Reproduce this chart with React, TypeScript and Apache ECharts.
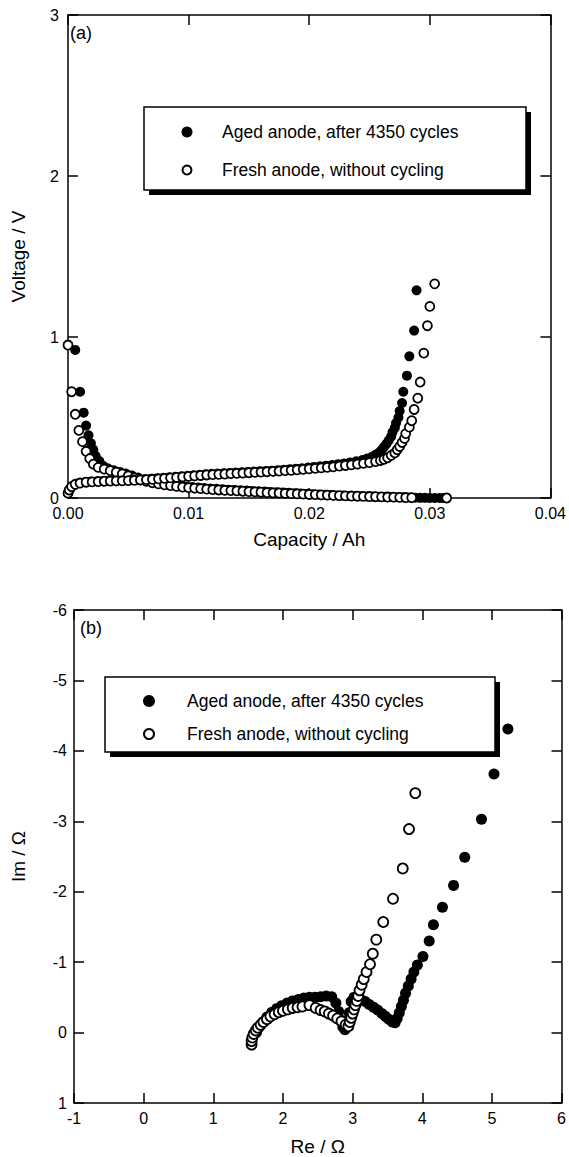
import React, { useEffect, useRef } from "react";
import * as echarts from "echarts";

const FONT = "'Liberation Sans', Arial, Helvetica, sans-serif";

const seriesNames = ["Aged anode, after 4350 cycles", "Fresh anode, without cycling"];

// Panel (a): [capacity Ah, voltage V]
const agedDischarge = [
  [0.0006,0.92],[0.001,0.66],[0.0013,0.53],[0.0015,0.45],[0.0017,0.39],[0.0019,0.34],[0.0021,0.3],[0.0023,0.26],
  [0.0026,0.23],[0.0029,0.2],[0.0033,0.185],[0.0038,0.172],[0.0043,0.162],[0.0048,0.152],[0.0053,0.14],[0.0058,0.127],
  [0.0063,0.115],[0.0068,0.105],[0.0073,0.097],[0.0078,0.09],[0.0083,0.084],[0.0088,0.079],[0.0093,0.075],[0.0098,0.071],
  [0.0103,0.068],[0.0108,0.065],[0.0113,0.062],[0.0118,0.059],[0.0123,0.057],[0.0128,0.054],[0.0133,0.052],[0.0138,0.05],
  [0.0143,0.048],[0.0148,0.046],[0.0153,0.044],[0.0158,0.042],[0.0163,0.04],[0.0168,0.038],[0.0173,0.036],[0.0178,0.034],
  [0.0183,0.032],[0.0188,0.03],[0.0193,0.028],[0.0198,0.026],[0.0203,0.024],[0.0208,0.022],[0.0213,0.02],[0.0218,0.018],
  [0.0223,0.016],[0.0228,0.015],[0.0233,0.013],[0.0238,0.012],[0.0243,0.011],[0.0248,0.01],[0.0253,0.009],[0.0258,0.008],
  [0.0263,0.007],[0.0268,0.006],[0.0273,0.005],[0.0278,0.004],[0.0283,0.003],[0.0288,0.002],[0.0292,0.001],[0.0296,0.001],
  [0.03,0.0],[0.0304,0.0],[0.0308,0.0],[0.0311,0.0]
];
const agedCharge = [
  [0.0,0.03],[0.0002,0.06],[0.0005,0.08],[0.0009,0.092],[0.0014,0.098],[0.0019,0.102],[0.0024,0.104],[0.0029,0.106],
  [0.0034,0.108],[0.0039,0.109],[0.0044,0.11],[0.0049,0.111],[0.0054,0.113],[0.0059,0.115],[0.0064,0.117],[0.0069,0.12],
  [0.0074,0.123],[0.0079,0.126],[0.0084,0.129],[0.0089,0.132],[0.0094,0.135],[0.0099,0.138],[0.0104,0.141],[0.0109,0.144],
  [0.0114,0.147],[0.0119,0.15],[0.0124,0.152],[0.0129,0.154],[0.0134,0.156],[0.0139,0.158],[0.0144,0.16],[0.0149,0.162],
  [0.0154,0.164],[0.0159,0.166],[0.0164,0.168],[0.0169,0.17],[0.0174,0.173],[0.0179,0.176],[0.0184,0.179],[0.0189,0.182],
  [0.0194,0.185],[0.0199,0.189],[0.0204,0.193],[0.0209,0.197],[0.0214,0.201],[0.0219,0.205],[0.0224,0.21],[0.0229,0.215],
  [0.0234,0.221],[0.0239,0.228],[0.0244,0.236],[0.0248,0.245],[0.0252,0.256],[0.0255,0.268],[0.0258,0.282],[0.026,0.298],
  [0.0262,0.316],[0.0264,0.336],[0.0266,0.358],[0.0268,0.382],[0.0269,0.408],[0.0271,0.436],[0.0272,0.466],[0.0274,0.5],
  [0.0275,0.54],[0.0277,0.59],[0.0278,0.66],[0.0281,0.76],[0.0283,0.88],[0.0287,1.04],[0.0289,1.29]
];
const freshDischarge = [
  [0.0,0.95],[0.0003,0.66],[0.0006,0.52],[0.0009,0.42],[0.0012,0.35],[0.0015,0.29],[0.0018,0.245],[0.0021,0.21],
  [0.0025,0.19],[0.003,0.18],[0.0035,0.17],[0.004,0.16],[0.0045,0.15],[0.005,0.138],[0.0055,0.125],[0.006,0.113],
  [0.0065,0.103],[0.007,0.095],[0.0075,0.088],[0.008,0.082],[0.0085,0.077],[0.009,0.072],[0.0095,0.068],[0.01,0.064],
  [0.0105,0.061],[0.011,0.058],[0.0115,0.055],[0.012,0.052],[0.0125,0.05],[0.013,0.048],[0.0135,0.046],[0.014,0.044],
  [0.0145,0.042],[0.015,0.04],[0.0155,0.038],[0.016,0.036],[0.0165,0.034],[0.017,0.032],[0.0175,0.031],[0.018,0.029],
  [0.0185,0.027],[0.019,0.026],[0.0195,0.024],[0.02,0.022],[0.0205,0.021],[0.021,0.019],[0.0215,0.018],[0.022,0.016],
  [0.0225,0.015],[0.023,0.013],[0.0235,0.012],[0.024,0.011],[0.0245,0.01],[0.025,0.009],[0.0255,0.008],[0.026,0.007],
  [0.0265,0.006],[0.027,0.005],[0.0275,0.004],[0.028,0.003],[0.0285,0.002],[0.0314,0.0]
];
const freshCharge = [
  [0.0,0.03],[0.0001,0.05],[0.0003,0.07],[0.0006,0.085],[0.001,0.093],[0.0015,0.098],[0.002,0.1],[0.0025,0.102],
  [0.003,0.104],[0.0035,0.105],[0.004,0.106],[0.0045,0.107],[0.005,0.108],[0.0055,0.11],[0.006,0.112],[0.0065,0.114],
  [0.007,0.116],[0.0075,0.119],[0.008,0.122],[0.0085,0.125],[0.009,0.128],[0.0095,0.131],[0.01,0.134],[0.0105,0.137],
  [0.011,0.14],[0.0115,0.143],[0.012,0.145],[0.0125,0.147],[0.013,0.149],[0.0135,0.151],[0.014,0.153],[0.0145,0.155],
  [0.015,0.157],[0.0155,0.159],[0.016,0.161],[0.0165,0.163],[0.017,0.165],[0.0175,0.167],[0.018,0.17],[0.0185,0.172],
  [0.019,0.175],[0.0195,0.178],[0.02,0.181],[0.0205,0.184],[0.021,0.187],[0.0215,0.19],[0.022,0.194],[0.0225,0.198],
  [0.023,0.202],[0.0235,0.206],[0.024,0.21],[0.0245,0.215],[0.025,0.22],[0.0255,0.226],[0.0259,0.233],[0.0262,0.24],
  [0.0265,0.25],[0.0268,0.265],[0.0271,0.28],[0.0273,0.3],[0.0275,0.32],[0.0277,0.345],[0.0279,0.37],[0.028,0.4],
  [0.0283,0.44],[0.0285,0.48],[0.0287,0.55],[0.029,0.62],[0.0292,0.72],[0.0295,0.9],[0.0298,1.07],[0.03,1.19],[0.0304,1.33]
];

// Panel (b): [Re ohm, Im ohm]
const agedImpedance = [
  [1.62,0.0],[1.66,-0.08],[1.71,-0.15],[1.77,-0.22],[1.84,-0.29],[1.91,-0.34],[1.98,-0.38],[2.06,-0.42],
  [2.14,-0.45],[2.22,-0.47],[2.3,-0.49],[2.38,-0.5],[2.46,-0.5],[2.54,-0.51],[2.62,-0.52],[2.7,-0.51],
  [2.76,-0.42],[2.8,-0.3],[2.83,-0.18],[2.86,-0.08],[2.89,-0.04],[2.92,-0.1],[2.95,-0.28],[2.98,-0.44],
  [3.02,-0.5],[3.07,-0.5],[3.12,-0.47],[3.18,-0.44],[3.24,-0.4],[3.3,-0.36],[3.36,-0.32],[3.42,-0.27],
  [3.47,-0.23],[3.52,-0.19],[3.57,-0.15],[3.61,-0.14],[3.64,-0.2],[3.67,-0.28],[3.7,-0.37],[3.73,-0.46],
  [3.76,-0.56],[3.8,-0.66],[3.84,-0.76],[3.88,-0.86],[3.93,-0.96],[4.01,-1.08],[4.1,-1.3],[4.16,-1.53],
  [4.29,-1.78],[4.45,-2.09],[4.61,-2.49],[4.85,-3.03],[5.03,-3.67],[5.23,-4.31]
];
const freshImpedance = [
  [1.55,0.17],[1.55,0.12],[1.56,0.07],[1.58,0.02],[1.61,-0.03],[1.64,-0.07],[1.68,-0.11],[1.72,-0.15],
  [1.77,-0.19],[1.82,-0.23],[1.88,-0.26],[1.94,-0.29],[2.0,-0.31],[2.07,-0.33],[2.14,-0.35],[2.21,-0.36],
  [2.28,-0.37],[2.38,-0.39],[2.47,-0.35],[2.54,-0.32],[2.6,-0.3],[2.66,-0.27],[2.72,-0.24],[2.78,-0.2],
  [2.84,-0.16],[2.9,-0.11],[2.94,-0.09],[2.96,-0.15],[2.98,-0.21],[3.0,-0.27],[3.02,-0.33],[3.04,-0.39],
  [3.06,-0.45],[3.08,-0.52],[3.1,-0.6],[3.13,-0.68],[3.16,-0.76],[3.2,-0.86],[3.25,-0.97],[3.29,-1.12],
  [3.34,-1.32],[3.44,-1.57],[3.58,-1.9],[3.72,-2.33],[3.81,-2.89],[3.9,-3.4]
];

const axisBase = (extra: any) => ({
  type: "value",
  axisLine: { show: true, onZero: false, lineStyle: { color: "#000", width: 1.5 } },
  axisTick: { show: true, inside: true, length: 10, lineStyle: { color: "#000", width: 1.5 } },
  splitLine: { show: false },
  axisLabel: { color: "#000", fontSize: 16, fontFamily: FONT },
  nameTextStyle: { color: "#000", fontSize: 19, fontFamily: FONT },
  ...extra,
});

const filled = (size: number) => ({ symbol: "circle", symbolSize: size, itemStyle: { color: "#000", opacity: 1 } });
const open = (size: number) => ({
  symbol: "circle",
  symbolSize: size,
  itemStyle: { color: "#fff", borderColor: "#000", borderWidth: 1.8, opacity: 1 },
});

const legendBox = (x: number, y: number, w: number, h: number, r: number, row1: number, row2: number, mx: number, tx: number) => [
  { type: "rect", shape: { x: x + 5, y: y + 5, width: w, height: h }, style: { fill: "#000" } },
  { type: "rect", shape: { x, y, width: w, height: h }, style: { fill: "#fff", stroke: "#000", lineWidth: 1.5 } },
  { type: "circle", shape: { cx: mx, cy: row1, r }, style: { fill: "#000" } },
  { type: "circle", shape: { cx: mx, cy: row2, r: r - 1 }, style: { fill: "#fff", stroke: "#000", lineWidth: 2 } },
  { type: "text", x: tx, y: row1, style: { text: seriesNames[0], fontSize: 17.5, fontFamily: FONT, fill: "#000", verticalAlign: "middle" } },
  { type: "text", x: tx, y: row2, style: { text: seriesNames[1], fontSize: 17.5, fontFamily: FONT, fill: "#000", verticalAlign: "middle" } },
];

export default function App() {
  const ref = useRef<HTMLDivElement>(null);
  useEffect(() => {
    document.body.style.margin = "0";
    const chart = echarts.init(ref.current!, null, { renderer: "svg" });
    const option: any = {
      animation: false,
      backgroundColor: "#fff",
      grid: [
        { left: 68, top: 15, width: 485, height: 483 },
        { left: 74, top: 610, width: 493, height: 493 },
      ],
      xAxis: [
        axisBase({
          gridIndex: 0, position: "bottom", min: 0, max: 0.04, interval: 0.01,
          name: "Capacity / Ah", nameLocation: "middle", nameGap: 32,
          axisLabel: { color: "#000", fontSize: 16, fontFamily: FONT, margin: 7, formatter: (v: number) => v.toFixed(2) },
        }),
        axisBase({ gridIndex: 0, position: "top", min: 0, max: 0.04, interval: 0.01, axisLabel: { show: false } }),
        axisBase({
          gridIndex: 1, position: "bottom", min: -1, max: 6, interval: 1,
          name: "Re / Ω", nameLocation: "middle", nameGap: 34,
          axisLabel: { color: "#000", fontSize: 16, fontFamily: FONT, margin: 7 },
        }),
        axisBase({ gridIndex: 1, position: "top", min: -1, max: 6, interval: 1, axisLabel: { show: false } }),
      ],
      yAxis: [
        axisBase({
          gridIndex: 0, position: "left", min: 0, max: 3, interval: 1,
          name: "Voltage / V", nameLocation: "middle", nameGap: 40,
          axisLabel: { color: "#000", fontSize: 16, fontFamily: FONT, margin: 9 },
        }),
        axisBase({ gridIndex: 0, position: "right", min: 0, max: 3, interval: 1, axisLabel: { show: false } }),
        axisBase({
          gridIndex: 1, position: "left", min: -6, max: 1, interval: 1, inverse: true,
          name: "Im / Ω", nameLocation: "middle", nameGap: 46,
          axisLabel: { color: "#000", fontSize: 16, fontFamily: FONT, margin: 7 },
        }),
        axisBase({ gridIndex: 1, position: "right", min: -6, max: 1, interval: 1, inverse: true, axisLabel: { show: false } }),
      ],
      series: [
        { type: "scatter", name: seriesNames[0], xAxisIndex: 0, yAxisIndex: 0, data: agedDischarge.concat(agedCharge), ...filled(10), z: 2 },
        { type: "scatter", name: seriesNames[1], xAxisIndex: 0, yAxisIndex: 0, data: freshDischarge.concat(freshCharge), ...open(9), z: 3 },
        { type: "scatter", name: seriesNames[0], xAxisIndex: 2, yAxisIndex: 2, data: agedImpedance, ...filled(11), z: 2 },
        { type: "scatter", name: seriesNames[1], xAxisIndex: 2, yAxisIndex: 2, data: freshImpedance, ...open(10), z: 3 },
      ],
      graphic: [
        { type: "text", x: 70, y: 33, style: { text: "(a)", fontSize: 18, fontFamily: FONT, fill: "#000", verticalAlign: "middle" } },
        { type: "text", x: 80, y: 628, style: { text: "(b)", fontSize: 18, fontFamily: FONT, fill: "#000", verticalAlign: "middle" } },
        ...legendBox(144, 107, 382, 83, 5.5, 132, 170, 187, 222),
        ...legendBox(105, 677, 390, 75, 6, 701, 734, 149, 187),
      ],
    };
    chart.setOption(option);
    return () => chart.dispose();
  }, []);
  return (
    <div
      ref={ref}
      style={{ position: "absolute", left: 0, top: 0, width: 569, height: 1157, background: "#fff" }}
    />
  );
}
